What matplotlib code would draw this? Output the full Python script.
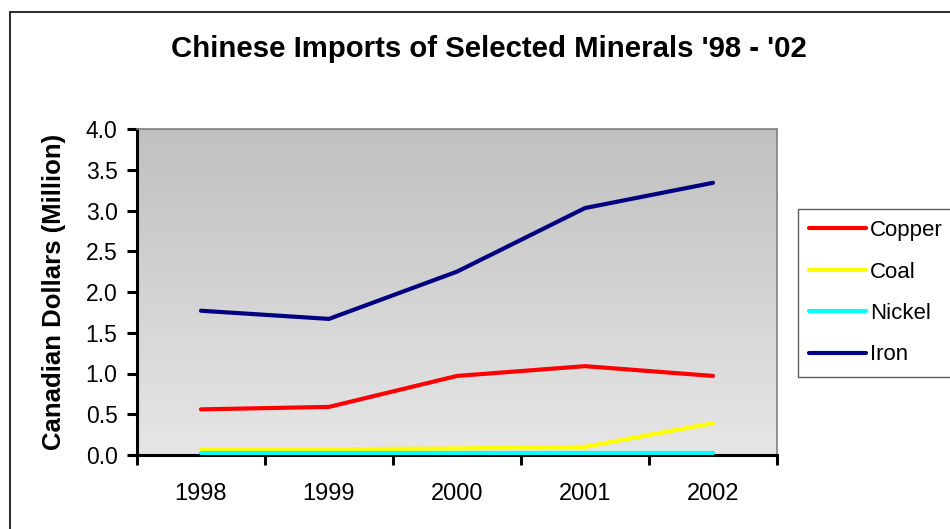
import numpy as np
import matplotlib.pyplot as plt
from matplotlib.patches import Rectangle
from matplotlib.colors import LinearSegmentedColormap

plt.rcParams['font.family'] = ['Liberation Sans', 'DejaVu Sans']

years = ['1998', '1999', '2000', '2001', '2002']
copper = [0.56, 0.59, 0.97, 1.09, 0.97]
coal = [0.07, 0.07, 0.08, 0.10, 0.39]
nickel = [0.03, 0.03, 0.03, 0.03, 0.03]
iron = [1.77, 1.67, 2.25, 3.03, 3.34]

series = [('Copper', copper, '#ff0000'),
          ('Coal', coal, '#ffff00'),
          ('Nickel', nickel, '#00ffff'),
          ('Iron', iron, '#000080')]

W, H = 950, 529
fig = plt.figure(figsize=(W / 100, H / 100), dpi=100)

# outer chart frame, runs off the right and bottom edges
fig.patches.append(Rectangle((10 / W, -0.1), 2, 1 - 12 / H + 0.1,
                             transform=fig.transFigure, fill=False,
                             edgecolor='#333333', linewidth=1.5))

ax = fig.add_axes([137 / W, 1 - 455 / H, 640 / W, 326 / H])
x = np.arange(len(years))

# grey gradient background of the plot area
grad = np.linspace(0, 1, 256).reshape(-1, 1)
ax.imshow(grad, extent=(-0.5, 4.5, 0, 4), aspect='auto', origin='upper',
          cmap=LinearSegmentedColormap.from_list('g', ['#c0c0c0', '#e6e6e6']),
          zorder=0)

for name, vals, col in series:
    ax.plot(x, vals, color=col, linewidth=3.0, label=name,
            solid_capstyle='round', zorder=3)

ax.set_xlim(-0.5, 4.5)
ax.set_ylim(0, 4)
yt = np.arange(0, 4.01, 0.5)
ax.set_yticks(yt)
ax.set_yticklabels([f'{v:.1f}' for v in yt], fontsize=16.5)
ax.set_xticks(np.arange(-0.5, 4.6, 1))
ax.set_xticklabels([])
ax.set_xticks(x, minor=True)
ax.set_xticklabels(years, minor=True, fontsize=17)
ax.tick_params(axis='x', which='minor', length=0, pad=20)
ax.tick_params(axis='x', which='major', length=7, width=2.2, direction='out')
ax.tick_params(axis='y', length=7, width=2.2, direction='out', pad=7)

for s in ['left', 'bottom']:
    ax.spines[s].set_linewidth(2.2)
    ax.spines[s].set_color('black')
for s in ['top', 'right']:
    ax.spines[s].set_linewidth(1.2)
    ax.spines[s].set_color('#808080')

ax.set_ylabel('Canadian Dollars (Million)', fontsize=18.5, fontweight='bold')
ax.yaxis.set_label_coords((66 - 137) / 640, 0.5)

fig.text(489 / W, 1 - 57 / H, "Chinese Imports of Selected Minerals '98 - '02",
         ha='center', va='baseline', fontsize=21.2, fontweight='bold')

leg = fig.legend(loc='upper left', bbox_to_anchor=(798 / W, 1 - 209 / H),
                 fontsize=16, frameon=True, fancybox=False,
                 handlelength=2.55, handletextpad=0.2, labelspacing=0.92,
                 borderpad=0.5, borderaxespad=0)
leg.get_frame().set_edgecolor('#333333')
leg.get_frame().set_linewidth(1.0)
for line in leg.get_lines():
    line.set_linewidth(3.0)

fig.savefig('out.png', dpi=100)
